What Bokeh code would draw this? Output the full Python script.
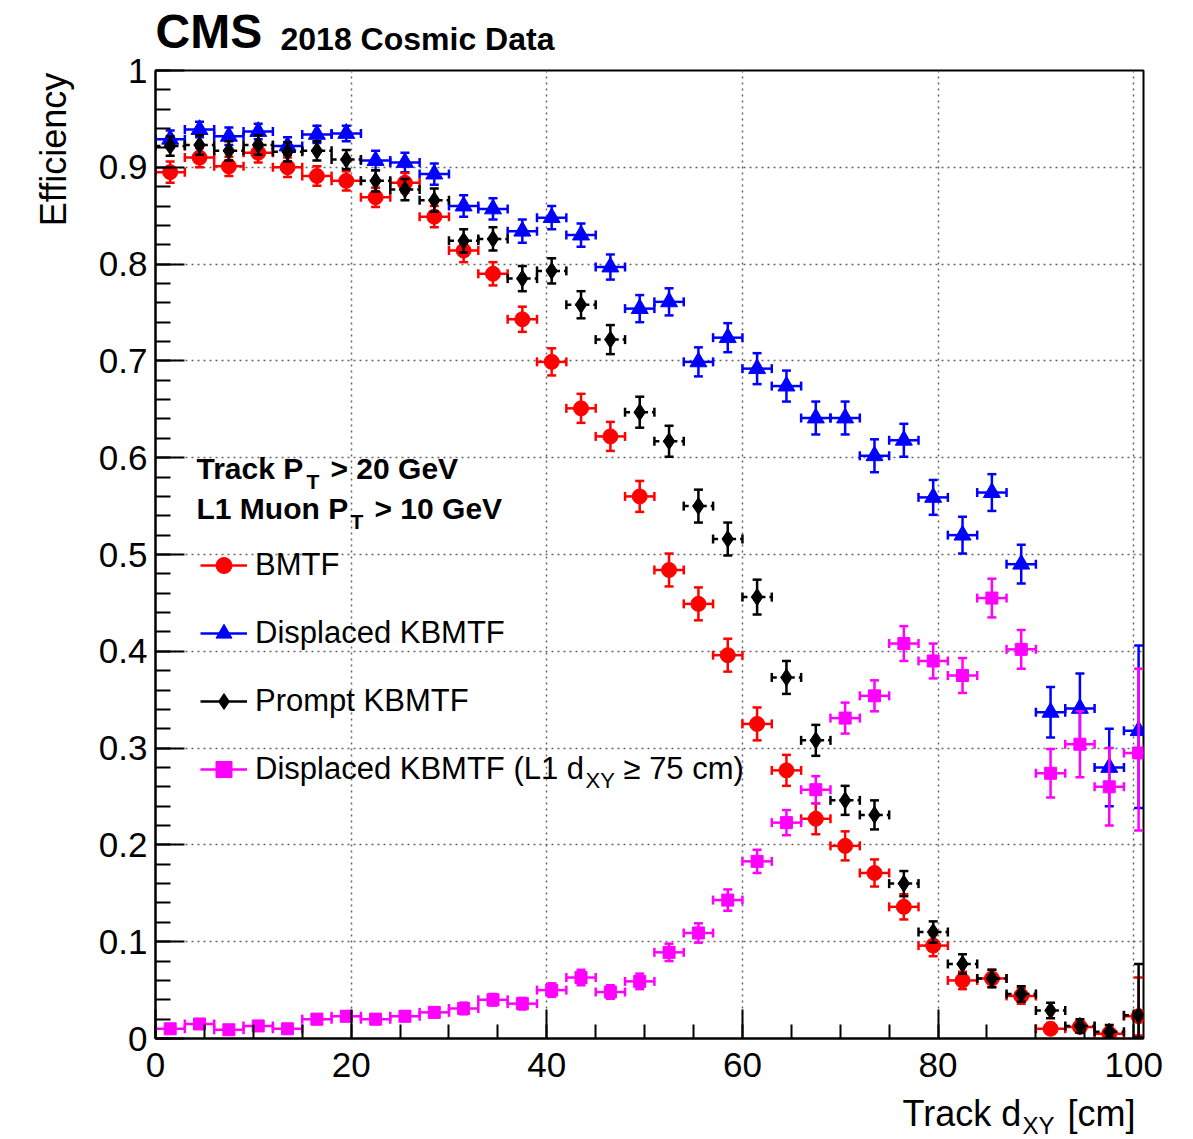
import numpy as np
from bokeh.plotting import figure
from bokeh.layouts import column, row
from bokeh.models import (ColumnDataSource, Range1d, FixedTicker, Label, Legend, LegendItem)
from bokeh.embed import file_html
from bokeh.resources import INLINE

# ---------------- data ----------------
x_center = [1.5, 4.5, 7.5, 10.5, 13.5, 16.5, 19.5, 22.5, 25.5, 28.5, 31.5, 34.5,
            37.5, 40.5, 43.5, 46.5, 49.5, 52.5, 55.5, 58.5, 61.5, 64.5, 67.5, 70.5,
            73.5, 76.5, 79.5, 82.5, 85.5, 88.5, 91.5, 94.5, 97.5, 100.5]
bin_half_width = 1.5

bmtf = [0.895, 0.910, 0.901, 0.915, 0.900, 0.891, 0.886, 0.869, 0.884, 0.849, 0.814, 0.790,
        0.743, 0.699, 0.651, 0.622, 0.560, 0.484, 0.449, 0.396, 0.325, 0.277, 0.227, 0.199,
        0.171, 0.136, 0.096, 0.060, 0.062, 0.044, 0.010, 0.012, 0.005, 0.023]
bmtf_err_up = [0.011, 0.010, 0.010, 0.010, 0.010, 0.010, 0.010, 0.010, 0.010, 0.011, 0.012, 0.012,
               0.013, 0.014, 0.015, 0.015, 0.016, 0.017, 0.017, 0.017, 0.017, 0.016, 0.016, 0.015,
               0.014, 0.013, 0.011, 0.009, 0.009, 0.008, 0.006, 0.006, 0.006, 0.040]
bmtf_err_dn = [0.011, 0.010, 0.010, 0.010, 0.010, 0.010, 0.010, 0.010, 0.010, 0.011, 0.012, 0.012,
               0.013, 0.014, 0.015, 0.015, 0.016, 0.017, 0.017, 0.017, 0.017, 0.016, 0.016, 0.015,
               0.014, 0.013, 0.011, 0.009, 0.009, 0.008, 0.005, 0.006, 0.005, 0.020]

disp = [0.929, 0.939, 0.932, 0.937, 0.922, 0.934, 0.935, 0.907, 0.905, 0.893, 0.860, 0.857,
        0.834, 0.848, 0.830, 0.797, 0.754, 0.761, 0.699, 0.724, 0.692, 0.674, 0.641, 0.641,
        0.602, 0.618, 0.559, 0.520, 0.564, 0.490, 0.337, 0.341, 0.280, 0.318]
disp_err_up = [0.009, 0.008, 0.009, 0.008, 0.009, 0.009, 0.008, 0.010, 0.010, 0.011, 0.011, 0.011,
               0.012, 0.012, 0.012, 0.013, 0.014, 0.014, 0.015, 0.015, 0.016, 0.016, 0.017, 0.017,
               0.017, 0.017, 0.018, 0.019, 0.019, 0.020, 0.026, 0.036, 0.040, 0.088]
disp_err_dn = [0.009, 0.008, 0.009, 0.008, 0.009, 0.009, 0.008, 0.010, 0.010, 0.011, 0.011, 0.011,
               0.012, 0.012, 0.012, 0.013, 0.014, 0.014, 0.015, 0.015, 0.016, 0.016, 0.017, 0.017,
               0.017, 0.017, 0.018, 0.019, 0.019, 0.020, 0.026, 0.036, 0.040, 0.080]

prompt = [0.922, 0.923, 0.917, 0.923, 0.916, 0.917, 0.908, 0.886, 0.877, 0.866, 0.824, 0.826,
          0.785, 0.793, 0.758, 0.722, 0.647, 0.617, 0.550, 0.516, 0.456, 0.373, 0.308, 0.246,
          0.231, 0.160, 0.110, 0.077, 0.062, 0.046, 0.029, 0.013, 0.007, 0.024]
prompt_err_up = [0.010, 0.010, 0.010, 0.010, 0.010, 0.010, 0.010, 0.011, 0.011, 0.012, 0.012, 0.012,
                 0.013, 0.013, 0.014, 0.015, 0.016, 0.016, 0.017, 0.017, 0.018, 0.017, 0.016, 0.015,
                 0.015, 0.013, 0.011, 0.010, 0.009, 0.008, 0.008, 0.007, 0.007, 0.053]
prompt_err_dn = [0.010, 0.010, 0.010, 0.010, 0.010, 0.010, 0.010, 0.011, 0.011, 0.012, 0.012, 0.012,
                 0.013, 0.013, 0.014, 0.015, 0.016, 0.016, 0.017, 0.017, 0.018, 0.017, 0.016, 0.015,
                 0.015, 0.013, 0.011, 0.010, 0.009, 0.008, 0.008, 0.007, 0.006, 0.023]

disp75 = [0.010, 0.015, 0.009, 0.013, 0.010, 0.020, 0.023, 0.020, 0.023, 0.027, 0.031, 0.040,
          0.036, 0.050, 0.063, 0.048, 0.059, 0.089, 0.109, 0.143, 0.183, 0.223, 0.257, 0.331,
          0.354, 0.408, 0.390, 0.375, 0.455, 0.402, 0.274, 0.304, 0.260, 0.295]
disp75_err_up = [0.004, 0.004, 0.004, 0.004, 0.004, 0.005, 0.005, 0.005, 0.005, 0.005, 0.006, 0.006,
                 0.006, 0.007, 0.008, 0.007, 0.008, 0.009, 0.010, 0.011, 0.012, 0.013, 0.014, 0.016,
                 0.016, 0.018, 0.018, 0.018, 0.020, 0.020, 0.025, 0.034, 0.040, 0.087]
disp75_err_dn = [0.004, 0.004, 0.004, 0.004, 0.004, 0.005, 0.005, 0.005, 0.005, 0.005, 0.006, 0.006,
                 0.006, 0.007, 0.008, 0.007, 0.008, 0.009, 0.010, 0.011, 0.012, 0.013, 0.014, 0.016,
                 0.016, 0.018, 0.018, 0.018, 0.020, 0.020, 0.025, 0.034, 0.040, 0.080]

x_ticks = [0, 20, 40, 60, 80, 100]
y_ticks = [0, 0.1, 0.2, 0.3, 0.4, 0.5, 0.6, 0.7, 0.8, 0.9, 1]
y_tick_labels = {0: "0", 1: "1"}

FONT = "Liberation Sans"

# canvas geometry (pixels)
W, H = 1193, 1139
HEAD_H = 58          # header strip (CMS label)
LEFT_W = 90          # strip holding the y-axis title
FOOT_H = 46          # strip holding the x-axis title
MAIN_H = H - HEAD_H - FOOT_H
MAIN_W = W - LEFT_W
FRAME_L, FRAME_T = 155, 70   # frame position on the canvas
FRAME_B = 1038


def blank(width, height):
    f = figure(width=width, height=height, output_backend="svg", toolbar_location=None,
               x_axis_type=None, y_axis_type=None, x_range=Range1d(0, 1), y_range=Range1d(0, 1),
               min_border=0)
    f.outline_line_color = None
    f.grid.visible = False
    f.background_fill_color = "white"
    f.border_fill_color = "white"
    return f


# ---------------- main figure ----------------
p = figure(width=MAIN_W, height=MAIN_H, output_backend="svg", toolbar_location=None,
           x_range=Range1d(0, 101), y_range=Range1d(0, 1),
           min_border_left=FRAME_L - LEFT_W, min_border_right=W - 1143,
           min_border_top=FRAME_T - HEAD_H, min_border_bottom=HEAD_H + MAIN_H - FRAME_B)
p.background_fill_color = "white"
p.border_fill_color = "white"
p.outline_line_color = "black"
p.outline_line_width = 2

for ax in (p.xaxis[0], p.yaxis[0]):
    ax.axis_line_width = 2
    ax.axis_line_color = "black"
    ax.major_tick_line_width = 2
    ax.minor_tick_line_width = 2
    ax.major_tick_out = 0
    ax.minor_tick_out = 0
    ax.major_label_text_font = FONT
    ax.major_label_text_font_size = "35px"
    ax.major_label_text_color = "black"

p.xaxis.ticker = FixedTicker(ticks=x_ticks, minor_ticks=[v for v in range(0, 101, 5)])
p.yaxis.ticker = FixedTicker(ticks=y_ticks, minor_ticks=[round(0.02 * i, 2) for i in range(51)])
p.xaxis.major_tick_in = 29
p.xaxis.minor_tick_in = 14
p.yaxis.major_tick_in = 29
p.yaxis.minor_tick_in = 15
p.xaxis.major_label_standoff = 14
p.yaxis.major_label_standoff = 8
p.yaxis.major_label_overrides = y_tick_labels

for g in (p.xgrid[0], p.ygrid[0]):
    g.grid_line_color = "#666666"
    g.grid_line_dash = "2 4"
    g.grid_line_width = 1.5
p.xgrid.ticker = FixedTicker(ticks=x_ticks)
p.ygrid.ticker = FixedTicker(ticks=y_ticks)


def series(vals, up, dn, color, marker, size, hdash):
    y = np.array(vals)
    x = np.array(x_center)
    src = ColumnDataSource(dict(
        x=x, y=y, ylo=y - np.array(dn), yhi=y + np.array(up),
        xlo=x - bin_half_width, xhi=x + bin_half_width))
    p.segment(x0="xlo", y0="y", x1="xhi", y1="y", source=src,
              line_color=color, line_width=2.5, line_dash=hdash)
    vseg = p.segment(x0="x", y0="ylo", x1="x", y1="yhi", source=src,
                     line_color=color, line_width=2.5)
    p.scatter(x="x", y="ylo", source=src, marker="dash", size=9, line_color=color, line_width=2.5)
    p.scatter(x="x", y="yhi", source=src, marker="dash", size=9, line_color=color, line_width=2.5)
    p.scatter(x="xlo", y="y", source=src, marker="dash", angle=np.pi / 2, size=9,
              line_color=color, line_width=2.5)
    p.scatter(x="xhi", y="y", source=src, marker="dash", angle=np.pi / 2, size=9,
              line_color=color, line_width=2.5)
    mk = p.scatter(x="x", y="y", source=src, marker=marker, size=size,
                   fill_color=color, line_color=color, line_width=1)
    return vseg, mk


r_blue = series(disp, disp_err_up, disp_err_dn, "#0000ff", "triangle", 17, "solid")
r_red = series(bmtf, bmtf_err_up, bmtf_err_dn, "#ff0000", "circle", 15, "solid")
r_black = series(prompt, prompt_err_up, prompt_err_dn, "black", "diamond", 17, "5 4")
r_mag = series(disp75, disp75_err_up, disp75_err_dn, "#ff00ff", "square", 12, "solid")

# ---------------- legend ----------------
legend = Legend(items=[
    LegendItem(label="BMTF", renderers=list(r_red)),
    LegendItem(label="Displaced KBMTF", renderers=list(r_blue)),
    LegendItem(label="Prompt KBMTF", renderers=list(r_black)),
    LegendItem(label="Displaced KBMTF (L1 d", renderers=list(r_mag)),
], location=(45, 249.5), padding=0, margin=0, spacing=28, glyph_width=47, glyph_height=40,
    label_height=40, label_standoff=8, label_text_font=FONT, label_text_font_size="31px",
    label_text_color="black", background_fill_alpha=0, border_line_alpha=0)
p.add_layout(legend, "center")


def lab(fig, text, X, Yb, size, x0, ybottom, bold=False, align="left"):
    """Place a label whose left edge is at canvas x = X and whose baseline is at canvas
    y = Yb; x0 / ybottom are the canvas coords of the figure frame's left / bottom edges."""
    px = float(size.replace("px", ""))
    ymid = Yb - 0.35 * px
    fig.add_layout(Label(x=X - x0, y=ybottom - ymid, x_units="screen", y_units="screen",
                         text=text, text_font=FONT, text_font_size=size,
                         text_font_style="bold" if bold else "normal",
                         text_align=align, text_baseline="middle", text_color="black"))


# legend subscript remainder (inside frame)
lab(p, "XY", 585, 788, "22px", FRAME_L, FRAME_B)
lab(p, "\u2265 75 cm)", 623, 779, "31px", FRAME_L, FRAME_B)

# selection lines in the frame
lab(p, "Track P", 196, 478, "30px", FRAME_L, FRAME_B, bold=True)
lab(p, "T", 306, 488, "21px", FRAME_L, FRAME_B, bold=True)
lab(p, "> 20 GeV", 330, 478, "30px", FRAME_L, FRAME_B, bold=True)
lab(p, "L1 Muon P", 196, 518, "30px", FRAME_L, FRAME_B, bold=True)
lab(p, "T", 350, 528, "21px", FRAME_L, FRAME_B, bold=True)
lab(p, "> 10 GeV", 374, 518, "30px", FRAME_L, FRAME_B, bold=True)

# ---------------- header strip ----------------
head = blank(W, HEAD_H)
lab(head, "CMS", 155, 48, "48px", 0, HEAD_H, bold=True)
lab(head, "2018 Cosmic Data", 280, 50, "32px", 0, HEAD_H, bold=True)

# ---------------- left strip (y title, rotated, top-aligned with the frame) ----------------
# In a row, Bokeh aligns this strip's frame with the main frame (canvas y 70 .. 1038).
left = blank(LEFT_W, MAIN_H)
eff_size = 36
eff_len = 4.279 * eff_size          # Arial advance width of "Efficiency"
eff_cx = 66 - 0.35 * eff_size       # baseline at x = 66 -> centre of the text box
eff_cy = 72 + eff_len / 2           # text ends just below the top of the frame
left.add_layout(Label(x=eff_cx, y=FRAME_B - eff_cy, x_units="screen", y_units="screen",
                      text="Efficiency", text_font=FONT, text_font_size=f"{eff_size}px",
                      text_align="center", text_baseline="middle", angle=np.pi / 2,
                      text_color="black"))

# ---------------- footer strip (x title) ----------------
foot = blank(W, FOOT_H)
lab(foot, "Track d", 902, 1126, "36px", 0, H)
lab(foot, "XY", 1022, 1133, "24px", 0, H)
lab(foot, "[cm]", 1067, 1126, "36px", 0, H)

layout = column(head, row(left, p), foot)
open("out.html", "w").write(file_html(layout, INLINE))
